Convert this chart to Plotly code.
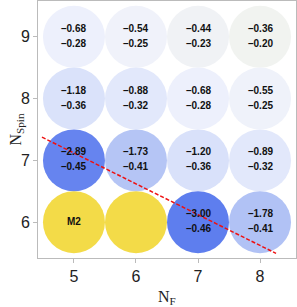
import plotly.graph_objects as go

# cells with values (N_F, N_Spin, top value, bottom value)
nf = [5, 6, 7, 8, 5, 6, 7, 8, 5, 6, 7, 8, 7, 8]
nspin = [9, 9, 9, 9, 8, 8, 8, 8, 7, 7, 7, 7, 6, 6]
top_vals = [-0.68, -0.54, -0.44, -0.36, -1.18, -0.88, -0.68, -0.55, -2.89, -1.73, -1.20, -0.89, -3.00, -1.78]
bot_vals = [-0.28, -0.25, -0.23, -0.20, -0.36, -0.32, -0.28, -0.25, -0.45, -0.41, -0.36, -0.32, -0.46, -0.41]

# special (yellow) cells
sp_nf = [5, 6]
sp_nspin = [6, 6]
sp_label_x = [5]
sp_label_y = [6]
sp_labels = ["M2"]

# dashed boundary line
line_x = [4.484, 8.258]
line_y = [7.376, 5.495]

x_ticks = [5, 6, 7, 8]
y_ticks = [6, 7, 8, 9]

def fmt(v):
    return f"{v:.2f}".replace("-", "\u2013")

colorscale = [
    [0.0, "#5E7EEE"],
    [0.46, "#B1C2F5"],
    [0.68, "#D9E1FA"],
    [0.80, "#E2E8FB"],
    [0.88, "#EDF0FC"],
    [0.94, "#F0F2FA"],
    [1.0, "#F1F3F0"],
]

label_font = dict(family="Liberation Sans", size=10, color="#111111", weight="bold")

fig = go.Figure()
fig.add_trace(go.Scatter(
    x=nf, y=nspin, mode="markers",
    marker=dict(size=62, color=top_vals, colorscale=colorscale, cmin=-3.0, cmax=-0.36,
                line=dict(width=0)),
    hoverinfo="skip", showlegend=False,
))
fig.add_trace(go.Scatter(
    x=sp_nf, y=sp_nspin, mode="markers",
    marker=dict(size=62, color="#F3DB48", line=dict(width=0)),
    hoverinfo="skip", showlegend=False,
))
fig.add_trace(go.Scatter(
    x=sp_label_x, y=sp_label_y, mode="text",
    text=sp_labels, textposition="middle center", textfont=label_font,
    hoverinfo="skip", showlegend=False,
))
fig.add_trace(go.Scatter(
    x=line_x, y=line_y, mode="lines",
    line=dict(color="#EE1111", width=1.5, dash="4px,2px"),
    hoverinfo="skip", showlegend=False,
))

annotations = []
for xi, yi, a, b in zip(nf, nspin, top_vals, bot_vals):
    annotations.append(dict(x=xi, y=yi, xref="x", yref="y", text=fmt(a), showarrow=False,
                            xanchor="center", yanchor="middle", yshift=8.5, font=label_font))
    annotations.append(dict(x=xi, y=yi, xref="x", yref="y", text=fmt(b), showarrow=False,
                            xanchor="center", yanchor="middle", yshift=-6.5, font=label_font))

axis_common = dict(
    showline=True, linecolor="#BBBBBB", linewidth=1, mirror=True,
    showgrid=False, zeroline=False,
    ticks="outside", ticklen=4, tickcolor="#BBBBBB",
    tickfont=dict(family="Liberation Sans", size=16, color="#222222"),
)
fig.update_xaxes(range=[4.42, 8.58], tickvals=x_ticks, **axis_common)
fig.update_yaxes(range=[5.42, 9.58], tickvals=y_ticks, **axis_common)

annotations += [
    dict(text="N<sub>F</sub>", xref="paper", yref="paper", x=0.5, y=-0.152,
         showarrow=False, xanchor="center", yanchor="middle",
         font=dict(family="Liberation Serif", size=16, color="#222222")),
    dict(text="N<sub>Spin</sub>", xref="paper", yref="paper", x=-0.085, y=0.5,
         showarrow=False, xanchor="center", yanchor="middle", textangle=-90,
         font=dict(family="Liberation Serif", size=16, color="#222222")),
]

fig.update_layout(
    width=297, height=307,
    margin=dict(l=38, r=1, t=1, b=49),
    plot_bgcolor="white", paper_bgcolor="white",
    annotations=annotations,
)

fig.write_html("out.html", config={"displayModeBar": False},
               post_script="document.body.style.margin='0';document.body.style.overflow='hidden';")
